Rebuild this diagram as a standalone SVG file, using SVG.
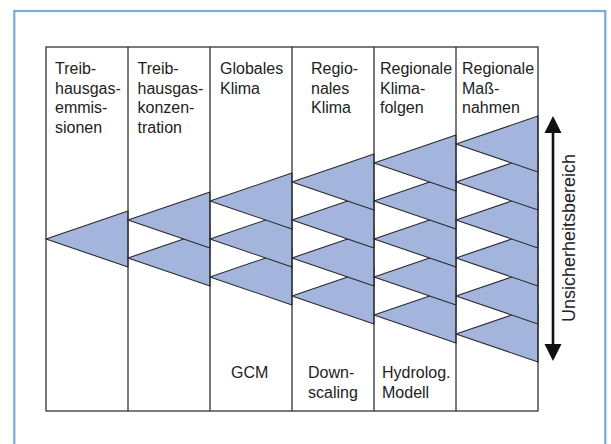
<svg xmlns="http://www.w3.org/2000/svg" width="611" height="444" viewBox="0 0 611 444">
<style>
.frame{fill:none;stroke:#78aadb;stroke-width:2.2}
.col{fill:none;stroke:#333;stroke-width:1.3}
.tri{fill:#a3b5dc;stroke:#2a2a2a;stroke-width:1.1;stroke-linejoin:miter}
.t{font-family:"Liberation Sans",Arial,sans-serif;font-size:16px;fill:#222}
.big{font-family:"Liberation Sans",Arial,sans-serif;font-size:18px;fill:#222}
.arr{stroke:#111;stroke-width:2.6;fill:none}
.head{fill:#111}
</style>
<rect width="611" height="444" fill="#fff"/>
<rect class="frame" x="14.3" y="11" width="591" height="445"/>

<g id="col1">
<polygon class="tri" points="46,239 128,211 128,267"/>
<text class="t" x="55" y="74">Treib-</text>
<text class="t" x="55" y="93.5">hausgas-</text>
<text class="t" x="55" y="113">emmis-</text>
<text class="t" x="55" y="132.5">sionen</text>
</g>

<g id="col2">
<polygon class="tri" points="128,258 210,230 210,286"/>
<polygon class="tri" points="128,220 210,192 210,248"/>
<text class="t" x="137.5" y="74">Treib-</text>
<text class="t" x="137.5" y="93.5">hausgas-</text>
<text class="t" x="137.5" y="113">konzen-</text>
<text class="t" x="137.5" y="132.5">tration</text>
</g>

<g id="col3">
<polygon class="tri" points="210,277 292,249 292,305"/>
<polygon class="tri" points="210,239 292,211 292,267"/>
<polygon class="tri" points="210,201 292,173 292,229"/>
<text class="t" x="220" y="74">Globales</text>
<text class="t" x="220" y="93.5">Klima</text>
<text class="t" x="231" y="377.5">GCM</text>
</g>

<g id="col4">
<polygon class="tri" points="292,296 374,268 374,324"/>
<polygon class="tri" points="292,258 374,230 374,286"/>
<polygon class="tri" points="292,220 374,192 374,248"/>
<polygon class="tri" points="292,182 374,154 374,210"/>
<text class="t" x="311" y="74">Regio-</text>
<text class="t" x="311" y="93.5">nales</text>
<text class="t" x="311" y="113">Klima</text>
<text class="t" x="308" y="377.5">Down-</text>
<text class="t" x="308" y="397.5">scaling</text>
</g>

<g id="col5">
<polygon class="tri" points="374,315 456,287 456,343"/>
<polygon class="tri" points="374,277 456,249 456,305"/>
<polygon class="tri" points="374,239 456,211 456,267"/>
<polygon class="tri" points="374,201 456,173 456,229"/>
<polygon class="tri" points="374,163 456,135 456,191"/>
<text class="t" x="380" y="74">Regionale</text>
<text class="t" x="380" y="93.5">Klima-</text>
<text class="t" x="380" y="113">folgen</text>
<text class="t" x="382" y="377.5">Hydrolog.</text>
<text class="t" x="382" y="397.5">Modell</text>
</g>

<g id="col6">
<polygon class="tri" points="456,334 538,306 538,362"/>
<polygon class="tri" points="456,296 538,268 538,324"/>
<polygon class="tri" points="456,258 538,230 538,286"/>
<polygon class="tri" points="456,220 538,192 538,248"/>
<polygon class="tri" points="456,182 538,154 538,210"/>
<polygon class="tri" points="456,144 538,116 538,172"/>
<text class="t" x="462" y="74">Regionale</text>
<text class="t" x="462" y="93.5">Maß-</text>
<text class="t" x="462" y="113">nahmen</text>
</g>

<g id="table">
<rect class="col" x="46" y="47" width="492" height="364"/>
<line class="col" x1="128" y1="47" x2="128" y2="411"/>
<line class="col" x1="210" y1="47" x2="210" y2="411"/>
<line class="col" x1="292" y1="47" x2="292" y2="411"/>
<line class="col" x1="374" y1="47" x2="374" y2="411"/>
<line class="col" x1="456" y1="47" x2="456" y2="411"/>
</g>

<g id="connectors">
<line class="arr" x1="553" y1="130" x2="553" y2="347"/>
<polygon class="head" points="553,116 544.5,133 561.5,133"/>
<polygon class="head" points="553,361 544.5,344 561.5,344"/>
</g>

<g id="uncertainty">
<text class="big" transform="translate(575,238) rotate(-90)" text-anchor="middle">Unsicherheitsbereich</text>
</g>
</svg>
